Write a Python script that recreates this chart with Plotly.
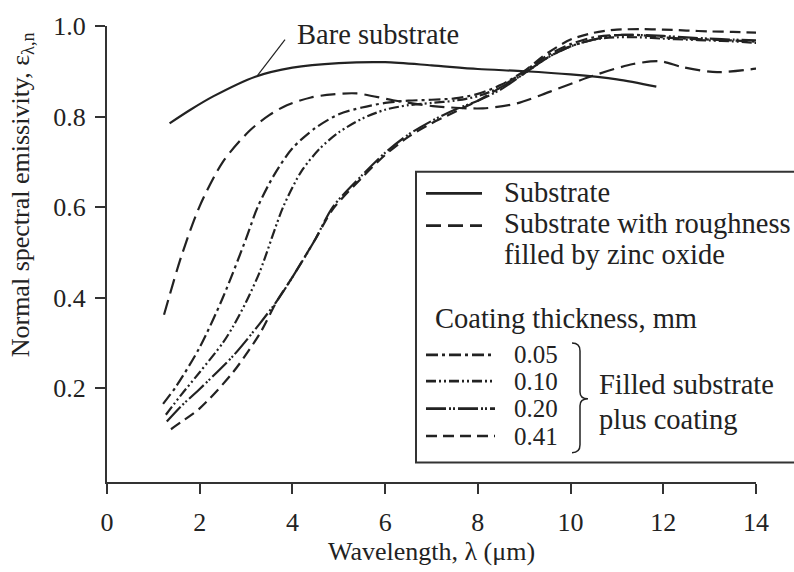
import plotly.graph_objects as go

# ---------------- data ----------------
bare_x = [1.35, 1.8, 2.3, 3.2, 4.0, 5.0, 6.0, 7.0, 8.0, 9.0, 10.0, 11.0, 11.85]
bare_y = [0.785, 0.815, 0.845, 0.888, 0.908, 0.918, 0.92, 0.913, 0.905, 0.90, 0.893, 0.882, 0.866]

zinc_x = [1.23, 1.6, 2.0, 2.5, 3.08, 3.5, 3.88, 4.4, 4.87, 5.39, 6.17, 7.03, 8.11, 8.84, 9.56, 10.48, 11.35, 11.93, 12.42, 13.16, 14.1]
zinc_y = [0.362, 0.49, 0.602, 0.70, 0.769, 0.803, 0.825, 0.842, 0.849, 0.851, 0.836, 0.823, 0.818, 0.829, 0.855, 0.890, 0.916, 0.922, 0.909, 0.898, 0.907]

c005_x = [1.21, 1.5, 2.0, 2.5, 3.0, 3.25, 3.6, 4.0, 4.5, 5.0, 5.5, 6.0, 6.5, 7.0, 7.5, 8.0, 8.5, 9.0, 9.5, 10.0, 10.5, 11.0, 11.5, 12.0, 12.5, 13.0, 13.5, 14.1]
c005_y = [0.165, 0.205, 0.29, 0.40, 0.53, 0.60, 0.67, 0.73, 0.775, 0.805, 0.82, 0.83, 0.835, 0.837, 0.84, 0.85, 0.87, 0.90, 0.935, 0.96, 0.975, 0.98, 0.98, 0.975, 0.972, 0.97, 0.968, 0.965]

c010_x = [1.27, 1.6, 2.0, 2.5, 2.72, 3.0, 3.3, 3.8, 4.2, 4.6, 5.0, 5.5, 6.0, 6.5, 7.0, 7.5, 8.0, 8.5, 9.0, 9.5, 10.0, 10.5, 11.0, 11.5, 12.0, 12.5, 13.0, 13.5, 14.1]
c010_y = [0.141, 0.185, 0.235, 0.30, 0.336, 0.39, 0.458, 0.60, 0.68, 0.73, 0.765, 0.795, 0.815, 0.825, 0.83, 0.835, 0.845, 0.865, 0.895, 0.93, 0.955, 0.97, 0.975, 0.975, 0.972, 0.97, 0.968, 0.966, 0.962]

c020_x = [1.29, 1.6, 2.0, 2.72, 3.3, 3.67, 4.0, 4.5, 4.87, 5.5, 6.0, 6.5, 7.0, 7.5, 8.0, 8.5, 9.0, 9.5, 10.0, 10.5, 11.0, 11.5, 12.0, 12.5, 13.0, 13.5, 14.1]
c020_y = [0.126, 0.16, 0.198, 0.271, 0.343, 0.393, 0.445, 0.53, 0.60, 0.67, 0.72, 0.76, 0.79, 0.815, 0.835, 0.86, 0.895, 0.93, 0.955, 0.97, 0.98, 0.98, 0.978, 0.975, 0.972, 0.97, 0.968]

c041_x = [1.38, 1.6, 2.0, 2.72, 3.3, 3.67, 4.0, 4.5, 4.87, 5.5, 6.0, 6.5, 7.0, 7.5, 8.0, 8.5, 9.0, 9.5, 10.0, 10.5, 11.0, 11.5, 12.0, 12.5, 13.0, 13.5, 14.1]
c041_y = [0.109, 0.125, 0.155, 0.235, 0.321, 0.393, 0.445, 0.53, 0.595, 0.665, 0.715, 0.755, 0.785, 0.81, 0.835, 0.865, 0.90, 0.94, 0.97, 0.985, 0.992, 0.993, 0.992, 0.99, 0.988, 0.987, 0.985]

x_ticks = [0, 2, 4, 6, 8, 10, 12, 14]
y_ticks = [0.2, 0.4, 0.6, 0.8, 1.0]
y_ticktext = ["0.2", "0.4", "0.6", "0.8", "1.0"]

FONT = "Liberation Serif"
INK = "#222222"
LW = 2.2
TXT = 28.5

D_ZINC = "15px,7px"
D_005 = "12px,4px,3px,4px"
D_010 = "10px,3px,2px,3px,2px,3px"
D_020 = "20px,3px,2px,2px,2px,3px"
D_041 = "11px,6px"

fig = go.Figure()


def add(x, y, dash):
    fig.add_trace(go.Scatter(x=x, y=y, mode="lines", line=dict(color=INK, width=LW, dash=dash, shape="spline", smoothing=0.8),
                             showlegend=False, hoverinfo="skip"))


add(bare_x, bare_y, "solid")
add(zinc_x, zinc_y, D_ZINC)
add(c005_x, c005_y, D_005)
add(c010_x, c010_y, D_010)
add(c020_x, c020_y, D_020)
add(c041_x, c041_y, D_041)

# plot area pixel geometry helpers (for paper coordinates of legend decorations)
L, R, T, B = 107, 756, 16, 482
W, H = R - L, B - T


def px(xp):
    return (xp - L) / W


def py(yp):
    return (B - yp) / H


shapes = []
# legend box
shapes.append(dict(type="rect", xref="paper", yref="paper", x0=px(416), x1=px(830), y0=py(462), y1=py(165),
                   line=dict(color="#333333", width=2), fillcolor="rgba(0,0,0,0)"))
# legend samples
samples = [(187, "solid", 482), (220, D_ZINC, 482), (352, D_005, 495), (379, D_010, 495), (407, D_020, 495), (435, D_041, 495)]
for yy, dash, xe in samples:
    shapes.append(dict(type="line", xref="paper", yref="paper", x0=px(426), x1=px(xe), y0=py(yy), y1=py(yy),
                       line=dict(color=INK, width=LW + 0.5, dash=dash)))
# bracket
bx0, bx1, bx2 = 572, 580, 588
path = (f"M {px(bx0)},{py(340)} Q {px(bx1)},{py(340)} {px(bx1)},{py(348)} "
        f"L {px(bx1)},{py(390)} Q {px(bx1)},{py(397)} {px(bx2)},{py(397)} "
        f"Q {px(bx1)},{py(397)} {px(bx1)},{py(404)} "
        f"L {px(bx1)},{py(444)} Q {px(bx1)},{py(452)} {px(bx0)},{py(452)}")
shapes.append(dict(type="path", xref="paper", yref="paper", path=path, line=dict(color=INK, width=1.5)))
# leader line for "Bare substrate"
shapes.append(dict(type="line", xref="x", yref="y", x0=3.24, y0=0.89, x1=3.84, y1=0.97,
                   line=dict(color=INK, width=1.2)))

ann = []


def txt(x, y, s, anchor="left", size=TXT, angle=0):
    ann.append(dict(x=x, y=y, xref="paper", yref="paper", text=s, showarrow=False, xanchor=anchor, yanchor="middle",
                    textangle=angle, font=dict(family=FONT, size=size, color=INK)))


txt(px(295), py(25), "Bare substrate")
txt(px(502), py(186), "Substrate")
txt(px(502), py(218), "Substrate with roughness")
txt(px(502), py(250), "filled by zinc oxide")
txt(px(433), py(315), "Coating thickness, mm")
txt(px(512), py(352), "0.05", size=25)
txt(px(512), py(379), "0.10", size=25)
txt(px(512), py(407), "0.20", size=25)
txt(px(512), py(435), "0.41", size=25)
txt(px(597), py(382), "Filled substrate")
txt(px(597), py(418), "plus coating")
txt(px(22), py(189), "Normal spectral emissivity, ε<sub>λ,n</sub>", anchor="center", size=26, angle=-90)

fig.update_layout(
    width=794, height=572,
    margin=dict(l=L, r=794 - R, t=T, b=572 - B, pad=0),
    paper_bgcolor="white", plot_bgcolor="white",
    font=dict(family=FONT, size=26, color=INK),
    shapes=shapes, annotations=ann,
    showlegend=False,
    xaxis=dict(range=[0, 14], tickvals=x_ticks, ticks="outside", ticklen=10, tickwidth=2, tickcolor="#333333",
               showline=True, linecolor="#333333", linewidth=2, showgrid=False, zeroline=False,
               tickfont=dict(family=FONT, size=26, color=INK), ticklabelstandoff=6,
               title=dict(text="Wavelength, λ (μm)", font=dict(family=FONT, size=26, color=INK), standoff=4)),
    yaxis=dict(range=[-0.0076, 1.0], tickvals=y_ticks, ticktext=y_ticktext, ticks="outside", ticklen=10, tickwidth=2,
               tickcolor="#333333", showline=True, linecolor="#333333", linewidth=2, showgrid=False, zeroline=False,
               tickfont=dict(family=FONT, size=26, color=INK), ticklabelstandoff=4),
)

fig.write_html("out.html")
